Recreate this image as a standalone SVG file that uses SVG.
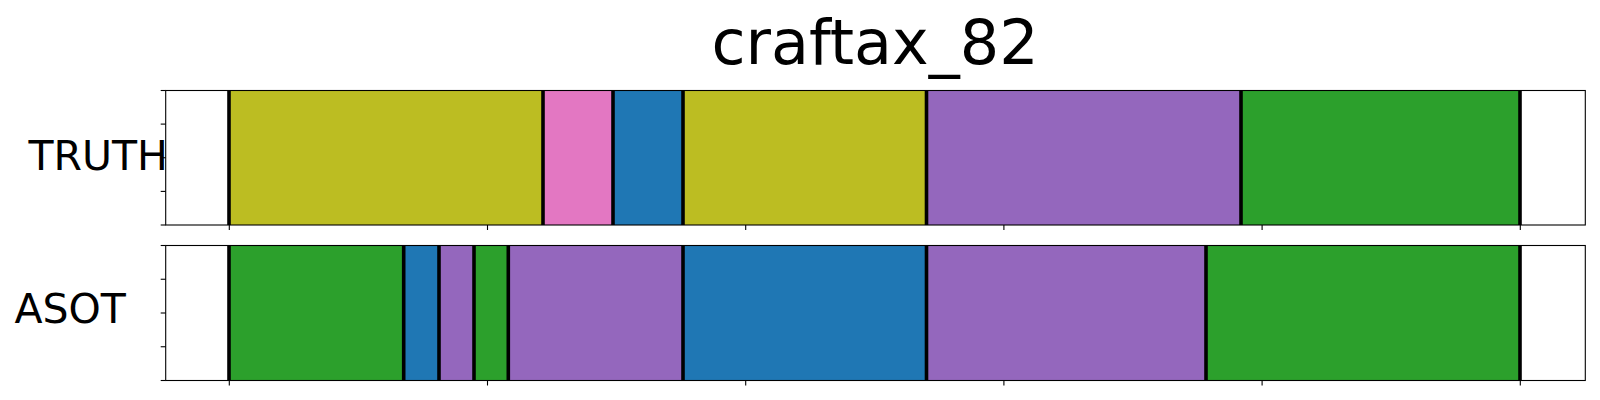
<svg xmlns="http://www.w3.org/2000/svg" width="1600" height="400" viewBox="0 0 1600 400">
<style>
.t{font-family:"DejaVu Sans",sans-serif;fill:#000}
.frame{fill:none;stroke:#000;stroke-width:1.1}
.tick{stroke:#000;stroke-width:1.1}
.b{stroke:#000;stroke-width:3.6}
.ol{fill:#bcbd22}.pk{fill:#e377c2}.bl{fill:#1f77b4}.pu{fill:#9467bd}.gr{fill:#2ca02c}
</style>
<rect width="1600" height="400" fill="#fff"/>
<text class="t" x="875" y="64" font-size="62" text-anchor="middle">craftax_82</text>
<g id="truth">
<rect class="ol" x="229" y="90.5" width="314" height="134.5"/>
<rect class="pk" x="543" y="90.5" width="70" height="134.5"/>
<rect class="bl" x="613" y="90.5" width="70" height="134.5"/>
<rect class="ol" x="683" y="90.5" width="243.5" height="134.5"/>
<rect class="pu" x="926.5" y="90.5" width="314.5" height="134.5"/>
<rect class="gr" x="1241" y="90.5" width="279" height="134.5"/>
<g class="b">
<line x1="229" y1="90.5" x2="229" y2="225"/><line x1="543" y1="90.5" x2="543" y2="225"/>
<line x1="613" y1="90.5" x2="613" y2="225"/><line x1="683" y1="90.5" x2="683" y2="225"/>
<line x1="926.5" y1="90.5" x2="926.5" y2="225"/><line x1="1241" y1="90.5" x2="1241" y2="225"/>
<line x1="1520" y1="90.5" x2="1520" y2="225"/>
</g>
<rect class="frame" x="165.7" y="90.5" width="1419.6" height="134.5"/>
<g class="tick">
<line x1="160.7" y1="90.5" x2="165.7" y2="90.5"/><line x1="160.7" y1="124.1" x2="165.7" y2="124.1"/>
<line x1="160.7" y1="157.75" x2="165.7" y2="157.75"/><line x1="160.7" y1="191.4" x2="165.7" y2="191.4"/>
<line x1="160.7" y1="225" x2="165.7" y2="225"/>
<line x1="229.3" y1="225" x2="229.3" y2="230"/><line x1="487.5" y1="225" x2="487.5" y2="230"/>
<line x1="745.7" y1="225" x2="745.7" y2="230"/><line x1="1003.9" y1="225" x2="1003.9" y2="230"/>
<line x1="1262.1" y1="225" x2="1262.1" y2="230"/><line x1="1520.3" y1="225" x2="1520.3" y2="230"/>
</g>
<text class="t" x="28.5" y="169.5" font-size="41">TRUTH</text>
</g>
<g id="asot">
<rect class="gr" x="229" y="245.5" width="174.7" height="135"/>
<rect class="bl" x="403.7" y="245.5" width="35.3" height="135"/>
<rect class="pu" x="439" y="245.5" width="35" height="135"/>
<rect class="gr" x="474" y="245.5" width="34.3" height="135"/>
<rect class="pu" x="508.3" y="245.5" width="174.7" height="135"/>
<rect class="bl" x="683" y="245.5" width="243.5" height="135"/>
<rect class="pu" x="926.5" y="245.5" width="279.5" height="135"/>
<rect class="gr" x="1206" y="245.5" width="314" height="135"/>
<g class="b">
<line x1="229" y1="245.5" x2="229" y2="380.5"/><line x1="403.7" y1="245.5" x2="403.7" y2="380.5"/>
<line x1="439" y1="245.5" x2="439" y2="380.5"/><line x1="474" y1="245.5" x2="474" y2="380.5"/>
<line x1="508.3" y1="245.5" x2="508.3" y2="380.5"/><line x1="683" y1="245.5" x2="683" y2="380.5"/>
<line x1="926.5" y1="245.5" x2="926.5" y2="380.5"/><line x1="1206" y1="245.5" x2="1206" y2="380.5"/>
<line x1="1520" y1="245.5" x2="1520" y2="380.5"/>
</g>
<rect class="frame" x="165.7" y="245.5" width="1419.6" height="135"/>
<g class="tick">
<line x1="160.7" y1="245.5" x2="165.7" y2="245.5"/><line x1="160.7" y1="279.25" x2="165.7" y2="279.25"/>
<line x1="160.7" y1="313" x2="165.7" y2="313"/><line x1="160.7" y1="346.75" x2="165.7" y2="346.75"/>
<line x1="160.7" y1="380.5" x2="165.7" y2="380.5"/>
<line x1="229.3" y1="380.5" x2="229.3" y2="385.5"/><line x1="487.5" y1="380.5" x2="487.5" y2="385.5"/>
<line x1="745.7" y1="380.5" x2="745.7" y2="385.5"/><line x1="1003.9" y1="380.5" x2="1003.9" y2="385.5"/>
<line x1="1262.1" y1="380.5" x2="1262.1" y2="385.5"/><line x1="1520.3" y1="380.5" x2="1520.3" y2="385.5"/>
</g>
<text class="t" x="14.5" y="322.8" font-size="41">ASOT</text>
</g>
</svg>
